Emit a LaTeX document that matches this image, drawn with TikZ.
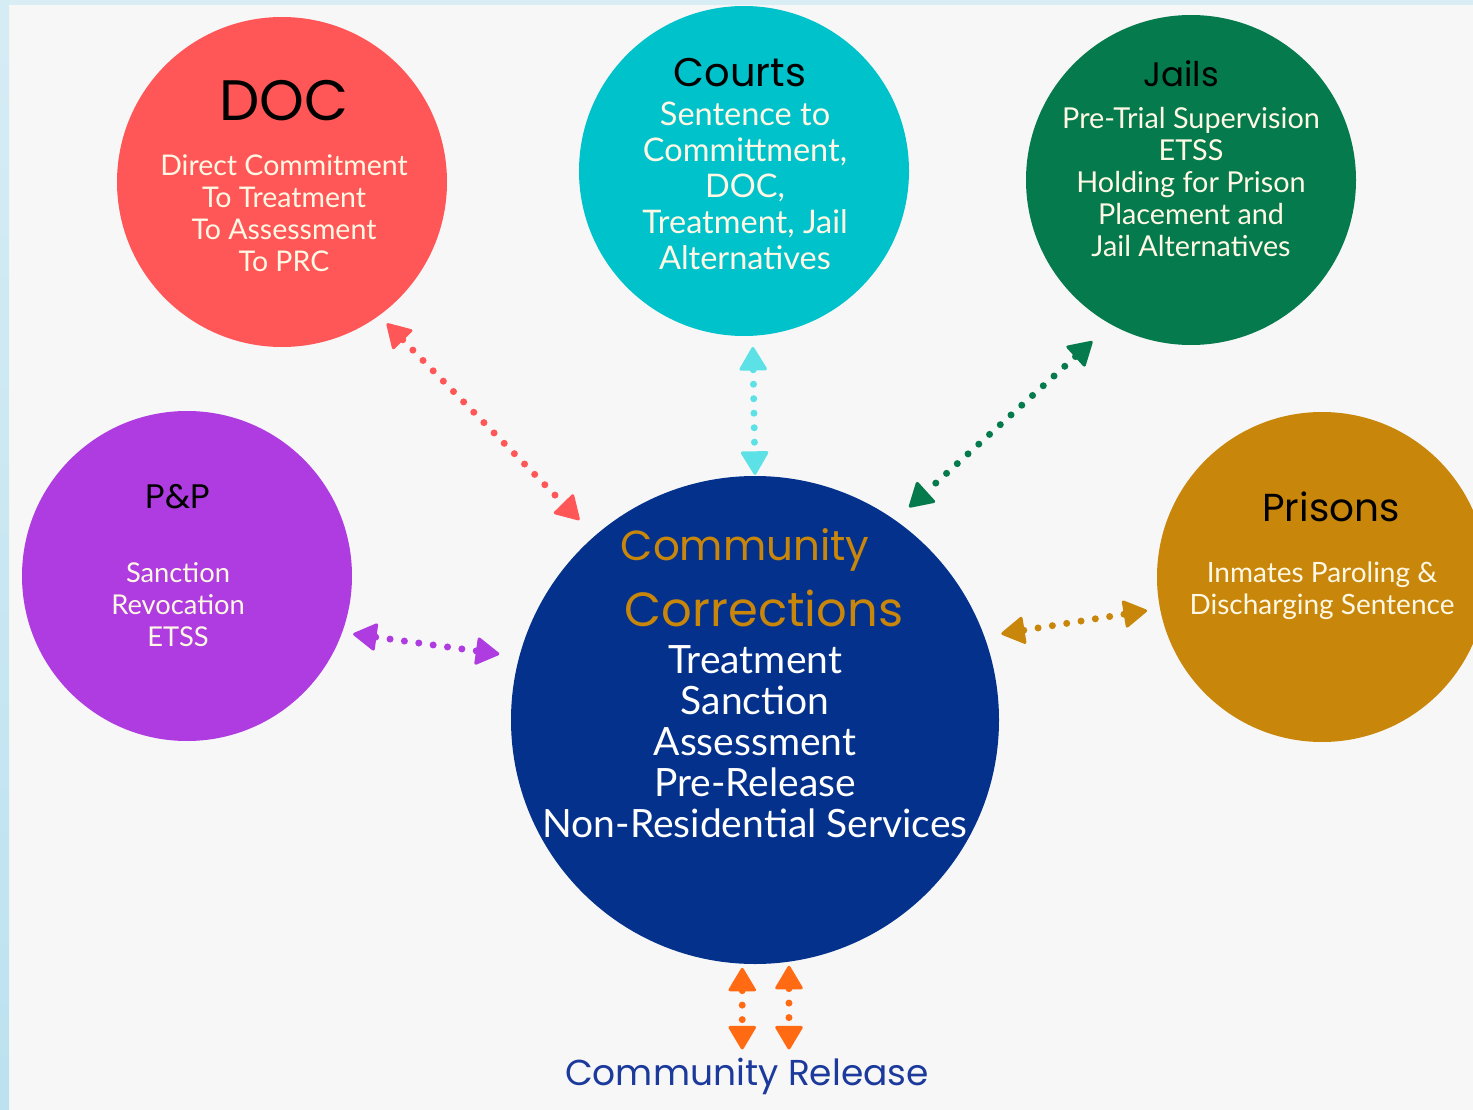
\documentclass[tikz,border=0pt]{standalone}
\usepackage{fontspec}
\setmainfont{Lato}
\newfontfamily\titlef{Poppins}
\usetikzlibrary{arrows.meta}
\definecolor{bgc}{HTML}{F7F7F7}
\definecolor{docred}{HTML}{FF5757}
\definecolor{courtc}{HTML}{00C2CB}
\definecolor{courtarr}{HTML}{5CE1E6}
\definecolor{jailc}{HTML}{057A4D}
\definecolor{ppc}{HTML}{AF3CE0}
\definecolor{prisc}{HTML}{C8860A}
\definecolor{ccc}{HTML}{04318C}
\definecolor{orangec}{HTML}{FF6A12}
\definecolor{relc}{HTML}{1B3A9C}
\definecolor{creamc}{HTML}{FFF8E4}
\tikzset{
  circ/.style={circle, minimum size=330pt, inner sep=0pt, draw=none},
  ttl/.style={text=black, font=\titlef\fontsize{#1}{#1}\selectfont, inner sep=0pt},
  bodytxt/.style={text=creamc, align=center, inner sep=0pt, font=\fontsize{#1}{32}\selectfont},
  arr/.style={line width=7pt, dash pattern=on 0pt off 14.5pt, line cap=round,
    {Triangle[length=25pt,width=29pt,round,line width=3pt]}-{Triangle[length=25pt,width=29pt,round,line width=3pt]}}
}
\begin{document}
\begin{tikzpicture}[x=1pt,y=-1pt]
\useasboundingbox (0,0) rectangle (1473,1110);
\fill[bgc] (0,0) rectangle (1473,1110);
\fill[color={rgb,255:red,217;green,237;blue,245}] (0,0) rectangle (1473,5);
\shade[top color={rgb,255:red,214;green,236;blue,245}, middle color={rgb,255:red,158;green,210;blue,230}, bottom color={rgb,255:red,188;green,226;blue,239}] (0,0) rectangle (9,1110);

% circles
\node[circ, fill=docred] (doc) at (282,182) {};
\node[circ, fill=courtc] (courts) at (744,171) {};
\node[circ, fill=jailc] (jails) at (1191,180) {};
\node[circ, fill=ppc] (pp) at (187,576) {};
\node[circ, fill=prisc] (pris) at (1322,577) {};
\node[circle, minimum size=488pt, inner sep=0pt, fill=ccc] (cc) at (755,720) {};

% texts
\node[ttl=57] (doct) at (284,101) {DOC};
\node[bodytxt=28.5] (docb) at (284,213) {Direct Commitment\\To Treatment\\To Assessment\\To PRC};

\node[ttl=40] (courtst) at (740,73) {Courts};
\node[text=creamc, align=center, inner sep=0pt, font=\fontsize{32.5}{36}\selectfont] (courtsb) at (745,186) {Sentence to\\Committment,\\DOC,\\Treatment, Jail\\Alternatives};

\node[ttl=34] (jailst) at (1181,74) {Jails};
\node[bodytxt=28.8] (jailsb) at (1191,182) {Pre-Trial Supervision\\ETSS\\Holding for Prison\\Placement and\\Jail Alternatives};

\node[ttl=34] (ppt) at (178,497) {P\&P};
\node[bodytxt=27.3] (ppb) at (178,605) {Sanction\\Revocation\\ETSS};

\node[ttl=39] (prist) at (1331,507) {Prisons};
\node[bodytxt=28] (prisb) at (1322,591) {Inmates Paroling \&\\Discharging Sentence};

\node[ttl=42, text=prisc] (cct1) at (745,550) {Community};
\node[ttl=48, text=prisc] (cct2) at (764,608) {Corrections};
\node[text=white, align=center, inner sep=0pt, font=\fontsize{39}{41}\selectfont] (ccb) at (755,742) {Treatment\\Sanction\\Assessment\\Pre-Release\\Non-Residential Services};

\node[ttl=36, text=relc] (rel) at (747,1076) {Community Release};

% connectors
\draw[arr, docred, shorten <=11pt, shorten >=22pt] (doc.-54) -- (cc.131);
\draw[arr, courtarr, shorten <=11pt, shorten >=1pt] (courts.-87) -- (cc.90);
\draw[arr, jailc, shorten <=25pt, shorten >=19pt] (jails.-119) -- (cc.55);
\draw[arr, ppc, shorten <=11pt, shorten >=20pt] (pp.-20) -- (cc.165);
\draw[arr, prisc, shorten <=17pt, shorten >=13pt] (cc.20) -- (pris.191);
\draw[arr, orangec, shorten <=4pt, shorten >=8pt] (cc.-93.8) -- (cc.-93.8 |- rel.north);
\draw[arr, orangec, shorten <=4pt, shorten >=8pt] (cc.-82.5) -- (cc.-82.5 |- rel.north);
\end{tikzpicture}
\end{document}
